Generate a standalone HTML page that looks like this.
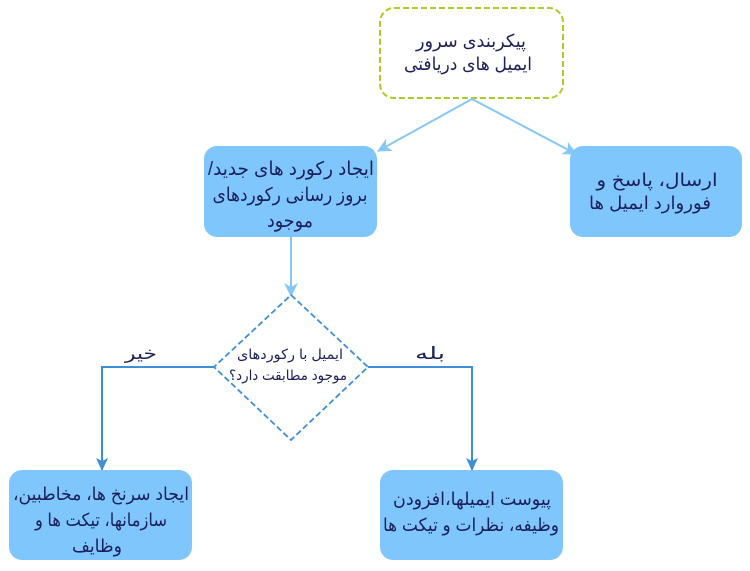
<!DOCTYPE html>
<html><head><meta charset="utf-8"><style>
html,body{margin:0;padding:0;background:#fff;width:750px;height:571px;overflow:hidden}
svg text{font-family:"Liberation Sans","DejaVu Sans",sans-serif;fill:#1b1f5a;text-anchor:middle;direction:rtl}
</style></head><body>
<svg width="750" height="571" viewBox="0 0 750 571" xmlns="http://www.w3.org/2000/svg">
<defs>
<marker id="a1" markerWidth="16" markerHeight="14" refX="13" refY="7" orient="auto" markerUnits="userSpaceOnUse"><path d="M0,0 L14,7 L0,14 L4,7 Z" fill="#86c8f5"/></marker>
<marker id="a2" markerWidth="14" markerHeight="12" refX="12" refY="6" orient="auto" markerUnits="userSpaceOnUse"><path d="M0,0 L13,6 L0,12 L3,6 Z" fill="#3d8fd6"/></marker>
</defs>
<rect x="380" y="8" width="183" height="90" rx="14" fill="#fff" stroke="#a8cc2a" stroke-width="2" stroke-dasharray="6,3"/>
<text x="471" y="47" font-size="18" textLength="110" lengthAdjust="spacingAndGlyphs">پیکربندی سرور</text>
<text x="468" y="70" font-size="18" textLength="128" lengthAdjust="spacingAndGlyphs">ایمیل های دریافتی</text>
<line x1="472" y1="99" x2="378" y2="151" stroke="#86c8f5" stroke-width="2" marker-end="url(#a1)"/>
<line x1="472" y1="99" x2="576" y2="154" stroke="#86c8f5" stroke-width="2" marker-end="url(#a1)"/>
<rect x="204" y="146" width="173" height="91" rx="13" fill="#7fc6fd"/>
<text x="291" y="175" font-size="19" textLength="166" lengthAdjust="spacingAndGlyphs">ایجاد رکورد های جدید/</text>
<text x="290" y="201" font-size="19" textLength="155" lengthAdjust="spacingAndGlyphs">بروز رسانی رکوردهای</text>
<text x="290" y="227" font-size="19" textLength="46" lengthAdjust="spacingAndGlyphs">موجود</text>
<rect x="570" y="146" width="172" height="91" rx="13" fill="#7fc6fd"/>
<text x="657" y="186" font-size="18" textLength="121" lengthAdjust="spacingAndGlyphs">ارسال، پاسخ و</text>
<text x="650" y="209" font-size="18" textLength="122" lengthAdjust="spacingAndGlyphs">فوروارد ایمیل ها</text>
<line x1="291" y1="237" x2="291" y2="296" stroke="#86c8f5" stroke-width="2" marker-end="url(#a1)"/>
<polygon points="291,295 368,367 291,440 214,367" fill="#fff" stroke="#3d8fd6" stroke-width="1.8" stroke-dasharray="6,3"/>
<text x="290" y="359" font-size="14" textLength="106" lengthAdjust="spacingAndGlyphs">ایمیل با رکوردهای</text>
<text x="288" y="380" font-size="14" textLength="118" lengthAdjust="spacingAndGlyphs">موجود مطابقت دارد؟</text>
<polyline points="214,367 102,367 102,470" fill="none" stroke="#3d8fd6" stroke-width="2" marker-end="url(#a2)"/>
<polyline points="368,367 472,367 472,470" fill="none" stroke="#3d8fd6" stroke-width="2" marker-end="url(#a2)"/>
<text x="141" y="359" font-size="17" textLength="32" lengthAdjust="spacingAndGlyphs">خیر</text>
<text x="430" y="359" font-size="17" textLength="30" lengthAdjust="spacingAndGlyphs">بله</text>
<rect x="9" y="470" width="183" height="90" rx="13" fill="#7fc6fd"/>
<text x="101" y="500" font-size="18" textLength="176" lengthAdjust="spacingAndGlyphs">ایجاد سرنخ ها، مخاطبین،</text>
<text x="101" y="526" font-size="18" textLength="132" lengthAdjust="spacingAndGlyphs">سازمانها، تیکت ها و</text>
<text x="97" y="552" font-size="18" textLength="50" lengthAdjust="spacingAndGlyphs">وظایف</text>
<rect x="380" y="470" width="183" height="90" rx="13" fill="#7fc6fd"/>
<text x="472" y="505" font-size="18" textLength="158" lengthAdjust="spacingAndGlyphs">پیوست ایمیلها،افزودن</text>
<text x="471" y="531" font-size="18" textLength="176" lengthAdjust="spacingAndGlyphs">وظیفه، نظرات و تیکت ها</text>
</svg>
</body></html>
